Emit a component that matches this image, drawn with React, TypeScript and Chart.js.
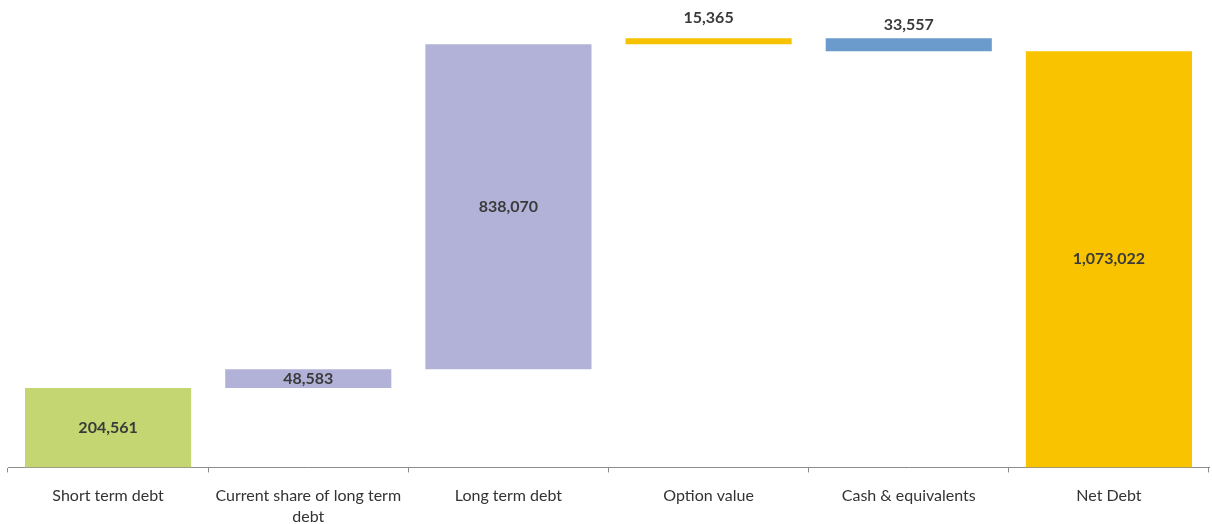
import React, { useEffect, useRef } from "react";
import { Chart, registerables } from "chart.js";

Chart.register(...registerables);

const categories: (string | string[])[] = [
  "Short term debt",
  ["Current share of long term", "debt"],
  "Long term debt",
  "Option value",
  "Cash & equivalents",
  "Net Debt",
];
const startValues = [0, 204561, 253144, 1091214, 1073022, 0];
const endValues = [204561, 253144, 1091214, 1106579, 1106579, 1073022];
const labelValues = ["204,561", "48,583", "838,070", "15,365", "33,557", "1,073,022"];
const barColors = ["#C4D672", "#B2B2D8", "#B2B2D8", "#F7C200", "#6A9BCC", "#F9C300"];
const labelPlacement = ["center", "center", "center", "above", "above", "center"];
const labelLift = [0, 0, 0, 20, 13, 0];

const labelPlugin = {
  id: "valueLabels",
  afterDatasetsDraw(chart: any) {
    const ctx = chart.ctx;
    const meta = chart.getDatasetMeta(0);
    ctx.save();
    ctx.font = "bold 16px Lato";
    ctx.fillStyle = "#3a3a3a";
    ctx.textAlign = "center";
    ctx.textBaseline = "middle";
    meta.data.forEach((bar: any, i: number) => {
      const top = Math.min(bar.y, bar.base);
      const bottom = Math.max(bar.y, bar.base);
      const y = labelPlacement[i] === "center" ? (top + bottom) / 2 : top - labelLift[i];
      ctx.fillText(labelValues[i], bar.x, y);
    });
    ctx.restore();
  },
};

export default function App() {
  const ref = useRef<HTMLCanvasElement>(null);
  useEffect(() => {
    const chart = new Chart(ref.current!, {
      type: "bar",
      data: {
        labels: categories,
        datasets: [
          {
            data: startValues.map((s, i) => [s, endValues[i]]) as any,
            backgroundColor: barColors,
            borderWidth: 0,
            categoryPercentage: 1,
            barPercentage: 0.83,
          },
        ],
      },
      options: {
        animation: false,
        responsive: false,
        maintainAspectRatio: false,
        layout: { padding: { left: 8, right: 3, top: 2, bottom: 0 } },
        plugins: { legend: { display: false }, tooltip: { enabled: false } },
        scales: {
          x: {
            grid: {
              display: true,
              drawOnChartArea: false,
              drawTicks: true,
              tickLength: 5,
              color: "#8c8c8c",
            },
            border: { display: true, color: "#8c8c8c", width: 1 },
            ticks: {
              color: "#333333",
              font: { family: "Lato", size: 16, lineHeight: 1.3 },
              padding: 13,
              maxRotation: 0,
              autoSkip: false,
            },
          },
          y: {
            display: false,
            min: 0,
            max: 1200000,
          },
        },
      },
      plugins: [labelPlugin],
    });
    return () => chart.destroy();
  }, []);
  return (
    <div style={{ position: "fixed", left: 0, top: 0, width: 1212, height: 540, background: "#fff" }}>
      <canvas ref={ref} width={1212} height={540} style={{ width: 1212, height: 540 }} />
    </div>
  );
}
